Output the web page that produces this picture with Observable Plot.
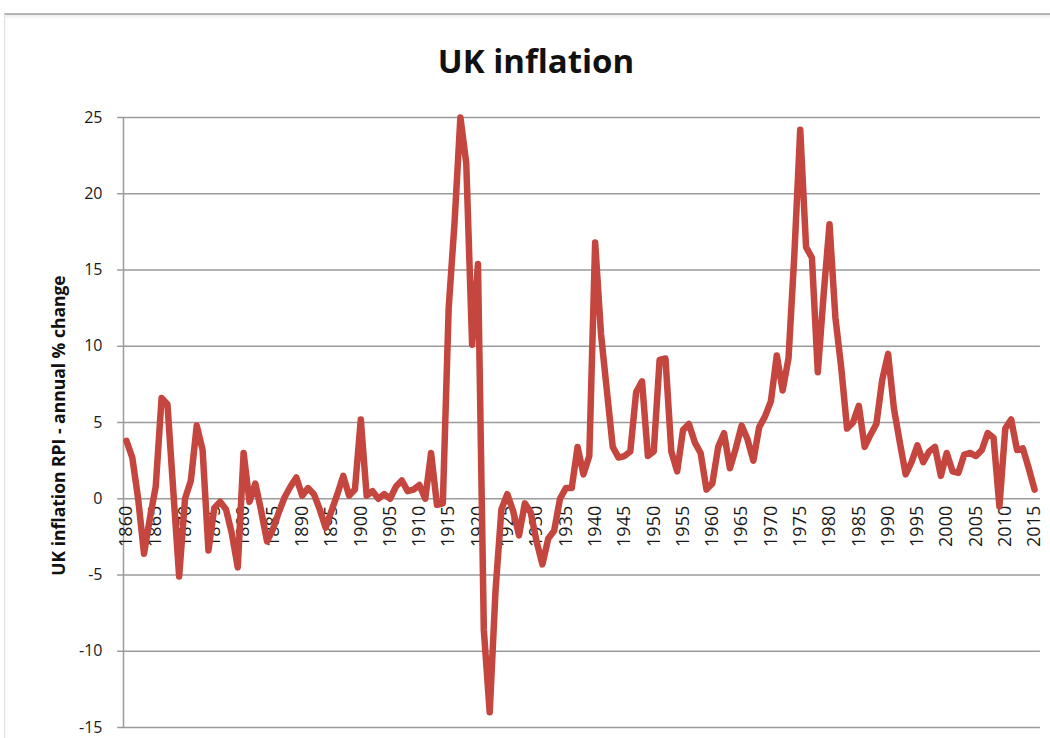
<!DOCTYPE html>
<html>
<head>
<meta charset="utf-8">
<script src="https://cdn.jsdelivr.net/npm/d3@7"></script>
<script src="https://cdn.jsdelivr.net/npm/@observablehq/plot@0.6"></script>
<style>
  body { margin: 0; background: #fff; }
  #wrap { position: relative; width: 1050px; height: 738px; overflow: hidden; background: #fff; }
  #frame { position: absolute; left: 4px; top: 13px; width: 1100px; height: 800px;
           border-top: 2px solid #b5b5b5; border-left: 1px solid #e2e2e2;
           box-shadow: inset 0 2px 3px rgba(0,0,0,0.08); }
  #title { position: absolute; left: 0; top: 41px; width: 1072px; text-align: center;
           font-family: "Open Sans", sans-serif; font-weight: 700; font-size: 33px;
           line-height: 40px; color: #111; }
  #chart { position: absolute; left: 0; top: 100px; }
</style>
</head>
<body>
<div id="wrap">
  <div id="frame"></div>
  <div id="title">UK inflation</div>
  <div id="chart"></div>
</div>
<script>
// Annual % change in UK RPI, 1860–2015
const startYear = 1860;
const inflation = [
  3.8, 2.7, 0.0, -3.6, -1.3, 0.8, 6.6, 6.2, 0.5, -5.1,      // 1860-1869
  0.0, 1.2, 4.8, 3.2, -3.4, -0.6, -0.2, -0.7, -2.3, -4.5,   // 1870-1879
  3.0, -0.2, 1.0, -0.8, -2.8, -2.0, -0.9, 0.1, 0.8, 1.4,    // 1880-1889
  0.2, 0.7, 0.3, -0.7, -1.9, -0.8, 0.3, 1.5, 0.2, 0.6,      // 1890-1899
  5.2, 0.2, 0.5, 0.0, 0.3, 0.0, 0.8, 1.2, 0.5, 0.6,         // 1900-1909
  0.9, 0.0, 3.0, -0.4, -0.3, 12.5, 18.1, 25.0, 22.0, 10.1,  // 1910-1919
  15.4, -8.6, -14.0, -6.0, -0.7, 0.3, -0.8, -2.4, -0.3, -0.9, // 1920-1929
  -2.8, -4.3, -2.6, -2.1, 0.0, 0.7, 0.7, 3.4, 1.6, 2.8,     // 1930-1939
  16.8, 10.8, 7.1, 3.4, 2.7, 2.8, 3.1, 7.0, 7.7, 2.8,       // 1940-1949
  3.1, 9.1, 9.2, 3.1, 1.8, 4.5, 4.9, 3.7, 3.0, 0.6,         // 1950-1959
  1.0, 3.4, 4.3, 2.0, 3.3, 4.8, 3.9, 2.5, 4.7, 5.4,         // 1960-1969
  6.4, 9.4, 7.1, 9.2, 16.0, 24.2, 16.5, 15.8, 8.3, 13.4,    // 1970-1979
  18.0, 11.9, 8.6, 4.6, 5.0, 6.1, 3.4, 4.2, 4.9, 7.8,       // 1980-1989
  9.5, 5.9, 3.7, 1.6, 2.4, 3.5, 2.4, 3.1, 3.4, 1.5,         // 1990-1999
  3.0, 1.8, 1.7, 2.9, 3.0, 2.8, 3.2, 4.3, 4.0, -0.5,        // 2000-2009
  4.6, 5.2, 3.2, 3.3, 2.0, 0.6                              // 2010-2015
];
const xTickYears = [1860, 1865, 1870, 1875, 1880, 1885, 1890, 1895, 1900, 1905,
  1910, 1915, 1920, 1925, 1930, 1935, 1940, 1945, 1950, 1955, 1960, 1965,
  1970, 1975, 1980, 1985, 1990, 1995, 2000, 2005, 2010, 2015];
const yTicks = [25, 20, 15, 10, 5, 0, -5, -10, -15];
const yTitle = "UK inflation RPI - annual % change";

const data = inflation.map((v, i) => ({year: startYear + i, value: v}));

const gridColor = "#9b9b9b";
const font = "'Open Sans', sans-serif";

const chart = Plot.plot({
  width: 1050,
  height: 638,
  marginLeft: 123,
  marginRight: 13,
  marginTop: 17,
  marginBottom: 11,
  style: {fontFamily: font, background: "transparent", color: "#222", overflow: "visible"},
  x: {domain: [1859.5, 2015.5], axis: null},
  y: {domain: [-15, 25], axis: null},
  marks: [
    Plot.ruleY(yTicks, {y: d => d, x1: 1858.5, x2: 2016, stroke: gridColor, strokeWidth: 1.5}),
    Plot.ruleX([1859.5], {y1: -15, y2: 25, stroke: gridColor, strokeWidth: 1.5}),
    Plot.text(yTicks, {x: 1859.5, y: d => d, text: d => String(d), textAnchor: "end",
      dx: -21, fontSize: 16, fill: "#1a1a1a"}),
    Plot.text([yTitle], {frameAnchor: "left", textAnchor: "middle", dx: -64, dy: 3, rotate: -90,
      fontSize: 17.5, fontWeight: "bold", fill: "#111"}),
    Plot.text(xTickYears, {x: d => d, y: 0, text: d => String(d), rotate: -90,
      textAnchor: "end", dy: 7, fontSize: 18, fill: "#1a1a1a"}),
    Plot.line(data, {x: "year", y: "value", stroke: "#c4463f", strokeWidth: 6.5,
      strokeLinejoin: "round", strokeLinecap: "round"})
  ]
});
document.getElementById("chart").append(chart);
</script>
</body>
</html>
